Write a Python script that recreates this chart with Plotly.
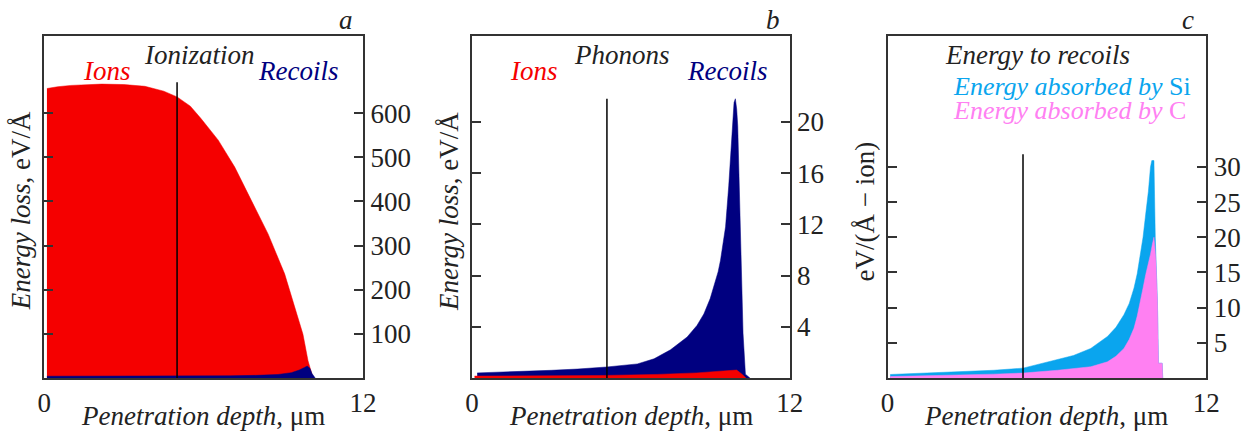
import plotly.graph_objects as go

W, H = 1247, 432
FONT = "Liberation Serif"

# ---------------- data ----------------
a_ions_x = [0.1, 0.5, 1.0, 1.5, 2.16, 3.0, 3.79, 4.5, 5.0, 5.5, 5.9, 6.55, 7.17, 7.8, 8.43, 9.05, 9.43, 9.74, 9.93, 10.05, 10.12]
a_ions_y = [656, 660, 663, 665, 666, 665, 661, 650, 637, 616, 588, 539, 478, 402, 326, 236, 160, 99, 39, 12, 0]
a_rec_x = [0.1, 2.0, 5.0, 7.0, 8.0, 8.8, 9.3, 9.6, 9.8, 9.9, 10.0, 10.08, 10.2]
a_rec_y = [4, 4, 4, 5, 6, 8, 12, 18, 24, 27, 22, 10, 0]

b_rec_x = [0.2, 1, 2, 3, 4, 5.1, 6.25, 6.88, 7.5, 8.13, 8.5, 8.76, 9.0, 9.14, 9.3, 9.39, 9.5, 9.58, 9.7, 9.83, 9.9, 9.95, 10.0, 10.04, 10.1, 10.14, 10.2, 10.24, 10.33, 10.5]
b_rec_y = [0.4, 0.45, 0.5, 0.6, 0.7, 0.86, 1.1, 1.5, 2.2, 3.2, 4.1, 5.0, 6.2, 7.1, 8.3, 9.2, 10.6, 11.8, 15, 19.7, 21.5, 21.8, 21.0, 19.7, 15, 11.3, 6.5, 3.5, 0.3, 0.0]
b_ions_x = [0.1, 3, 5, 7, 8.5, 9.5, 10.0, 10.2, 10.35]
b_ions_y = [0.15, 0.17, 0.2, 0.28, 0.4, 0.55, 0.62, 0.3, 0.0]

c_si_x = [0.1, 2, 4, 5.1, 6.4, 7, 7.65, 8.28, 8.6, 8.9, 9.1, 9.28, 9.4, 9.53, 9.62, 9.72, 9.82, 9.9, 9.95, 10.03, 10.08, 10.16, 10.2, 10.34, 10.36]
c_si_y = [0.5, 0.8, 1.1, 1.4, 2.6, 3.2, 4.2, 5.9, 7.2, 9.0, 10.6, 12.8, 14.8, 17.6, 20, 23.3, 26.5, 30, 30.9, 30.9, 20, 10.9, 2.1, 2.1, 0]
c_c_x = [0.1, 2, 4, 5.1, 6.4, 7.65, 8.28, 8.6, 8.9, 9.1, 9.28, 9.4, 9.53, 9.62, 9.72, 9.82, 9.9, 9.97, 10.03, 10.1, 10.16, 10.2, 10.34, 10.36]
c_c_y = [0.2, 0.35, 0.55, 0.7, 1.1, 1.6, 2.3, 3.1, 4.2, 5.5, 7.1, 8.8, 10.9, 12.8, 14.7, 16.2, 17.6, 19, 20, 17, 10.9, 2.1, 2.1, 0]

a_ticks = [100, 200, 300, 400, 500, 600]
b_ticks = [4, 8, 12, 16, 20]
c_ticks = [5, 10, 15, 20, 25, 30]
x_ticks = [0, 12]

RED = "#f50000"
NAVY = "#000080"
SI = "#0aa5ee"
CC = "#ff80f2"
AX = "#333333"

# horizontal compensation for observed render mapping
OFF, SC = 5.7, 0.984

def fx(px):
    return ((px - OFF) / SC) / W

def fy(py):
    return 1 - py / H

doms = [(43, 362), (471, 789), (887, 1206)]
ydom = [fy(378), fy(36)]

fig = go.Figure()

def area(x, y, color, xa, ya):
    fig.add_trace(go.Scatter(x=x, y=y, mode="lines", fill="tozeroy",
                             line=dict(color=color, width=0.5), fillcolor=color,
                             xaxis=xa, yaxis=ya, showlegend=False, hoverinfo="skip"))

area(a_ions_x, a_ions_y, RED, "x", "y")
area(a_rec_x, a_rec_y, NAVY, "x", "y")
area(b_rec_x, b_rec_y, NAVY, "x2", "y2")
area(b_ions_x, b_ions_y, RED, "x2", "y2")
area(c_si_x, c_si_y, SI, "x3", "y3")
area(c_c_x, c_c_y, CC, "x3", "y3")

TS = 27
yranges = [[0, 775], [0, 26.7], [0, 48.6]]
yticks = [a_ticks, b_ticks, c_ticks]
for i in range(3):
    sfx = "" if i == 0 else str(i + 1)
    fig.update_layout(**{
        "xaxis" + sfx: dict(domain=[fx(doms[i][0]), fx(doms[i][1])], range=[0, 12],
                            anchor="y" + sfx, showline=True, linecolor=AX, linewidth=2,
                            mirror=True, ticks="", tickvals=x_ticks, showgrid=False,
                            zeroline=False, tickfont=dict(family=FONT, size=TS, color="#222")),
        "yaxis" + sfx: dict(domain=ydom, range=yranges[i], anchor="x" + sfx, side="right",
                            showline=True, linecolor=AX, linewidth=2, mirror="ticks",
                            ticks="inside", ticklen=9, tickwidth=2, tickcolor=AX,
                            tickvals=yticks[i], showgrid=False, zeroline=False,
                            tickfont=dict(family=FONT, size=TS, color="#222")),
    })

vlines = [("x", "y", 5.0, 670), ("x2", "y2", 5.1, 21.8), ("x3", "y3", 5.1, 31.8)]
for xa, ya, xv, top in vlines:
    fig.add_shape(type="line", xref=xa, yref=ya, x0=xv, x1=xv, y0=0, y1=top,
                  line=dict(color="black", width=1.5))

def txt(text, px, py, color="#222", size=27, angle=0):
    fig.add_annotation(text=text, x=fx(px), y=fy(py), xref="paper", yref="paper",
                       showarrow=False, textangle=angle, xanchor="center", yanchor="middle",
                       font=dict(family=FONT, size=size, color=color))

txt("<i>a</i>", 345, 20)
txt("<i>b</i>", 772, 20)
txt("<i>c</i>", 1188, 20)

txt("<i>Ions</i>", 106, 71, RED)
txt("<i>Ionization</i>", 198, 55)
txt("<i>Recoils</i>", 297, 71, NAVY)
txt("<i>Ions</i>", 533, 71, RED)
txt("<i>Phonons</i>", 621, 55)
txt("<i>Recoils</i>", 726, 71, NAVY)
txt("<i>Energy to recoils</i>", 1037, 55)
txt("<i>Energy absorbed by</i> Si", 1072, 86, SI, size=26)
txt("<i>Energy absorbed by</i> C", 1069, 111, CC, size=26)

for cx in [202, 630, 1046]:
    txt("<i>Penetration depth</i>, μm", cx, 416)
txt("<i>Energy loss</i>, eV/Å", 20, 211, angle=-90)
txt("<i>Energy loss</i>, eV/Å", 448, 211, angle=-90)
txt("eV/(Å − ion)", 864, 212, angle=-90)

fig.update_layout(width=W, height=H, margin=dict(l=0, r=0, t=0, b=0), autosize=False,
                  paper_bgcolor="white", plot_bgcolor="white", showlegend=False)

fig.write_html("out.html",
               config={"displayModeBar": False, "responsive": False},
               post_script=("document.documentElement.style.overflow='hidden';"
                            "document.body.style.overflow='hidden';"
                            "document.body.style.margin='0px';"))
